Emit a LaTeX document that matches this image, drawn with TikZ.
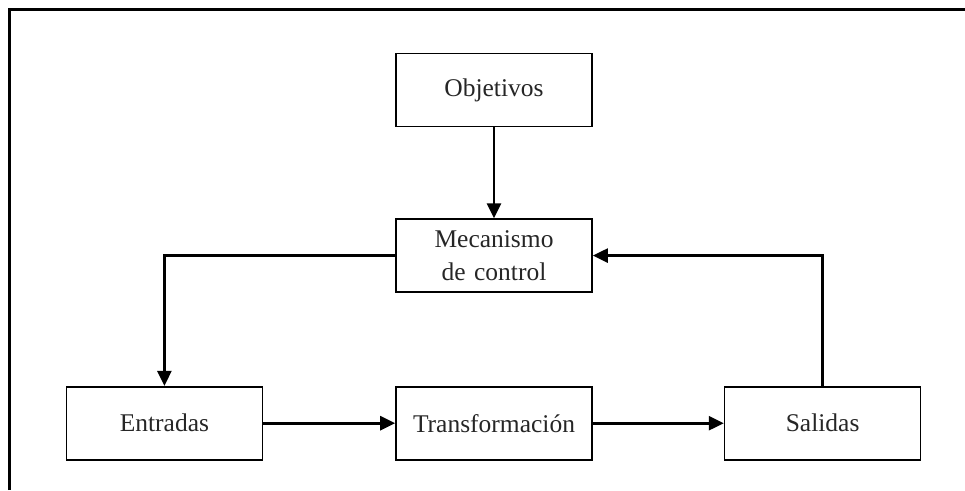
\documentclass[tikz,border=0pt]{standalone}
\usepackage{fontspec}
\setmainfont{Liberation Serif}
\usepackage{tikz}
\usetikzlibrary{positioning,arrows.meta}

\begin{document}
\begin{tikzpicture}[
    x=1pt, y=1pt,
    node distance=91pt,
    bloque/.style={rectangle, draw, line width=1.6pt, minimum width=196pt, minimum height=73pt, text width=186pt, align=center, font=\fontsize{25.5}{33}\selectfont, text=black!85},
    flecha/.style={-{Triangle[length=15pt,width=14pt]}, line width=2.6pt}
]
\useasboundingbox (0,0) rectangle (965,-490);
\draw[line width=3pt] (9.5,-490) -- (9.5,-9.5) -- (965,-9.5);

\node[bloque] (obj) at (494,-90) {Objetivos};
\node[bloque, below=91pt of obj] (mec) {Mecanismo\\de control};
\node[bloque, below=93pt of mec] (trans) {Transformación};
\node[bloque, left=132pt of trans] (ent) {Entradas};
\node[bloque, right=131pt of trans] (sal) {Salidas};

\draw[flecha] (obj.south) -- (mec.north);
\draw[flecha] (mec.west) -| (ent.north);
\draw[flecha] (ent.east) -- (trans.west);
\draw[flecha] (trans.east) -- (sal.west);
\draw[flecha] (sal.north) |- (mec.east);

\end{tikzpicture}
\end{document}
